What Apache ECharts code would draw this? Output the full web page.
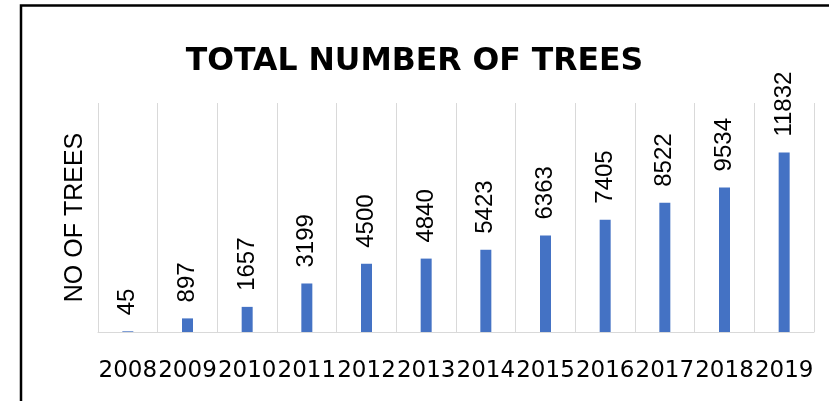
<!DOCTYPE html>
<html>
<head>
<meta charset="utf-8">
<script src="https://cdn.jsdelivr.net/npm/echarts@6/dist/echarts.min.js"></script>
<style>
  html, body { margin: 0; padding: 0; background: #fff; }
  #chart { width: 829px; height: 401px; }
</style>
</head>
<body>
<div id="chart"></div>
<script>
// Yearly tree counts
const years = ['2008', '2009', '2010', '2011', '2012', '2013', '2014', '2015', '2016', '2017', '2018', '2019'];
const treeCounts = [45, 897, 1657, 3199, 4500, 4840, 5423, 6363, 7405, 8522, 9534, 11832];

const chart = echarts.init(document.getElementById('chart'), null, { renderer: 'canvas' });

chart.setOption({
  animation: false,
  backgroundColor: '#ffffff',
  title: {
    text: 'TOTAL NUMBER OF TREES',
    left: 'center',
    top: 41,
    textStyle: {
      fontFamily: 'DejaVu Sans',
      fontWeight: 'bold',
      fontSize: 31.5,
      color: '#000000'
    }
  },
  graphic: [{
    type: 'rect',
    shape: { x: 21, y: 5.5, width: 830, height: 420 },
    style: { fill: 'none', stroke: '#000000', lineWidth: 2.5 },
    silent: true
  }],
  grid: { left: 98, right: 15, top: 103, bottom: 69, containLabel: false },
  xAxis: {
    type: 'category',
    data: years,
    boundaryGap: true,
    axisLine: { show: true, lineStyle: { color: '#d9d9d9', width: 1 } },
    axisTick: { show: false },
    splitLine: { show: true, lineStyle: { color: '#d9d9d9', width: 1 } },
    axisLabel: {
      interval: 0,
      margin: 28,
      fontFamily: 'DejaVu Sans',
      fontSize: 23,
      color: '#000000'
    }
  },
  yAxis: {
    type: 'value',
    min: 0,
    max: 15100,
    name: 'NO OF TREES',
    nameLocation: 'middle',
    nameRotate: 90,
    nameGap: 10,
    nameTextStyle: {
      fontFamily: 'Liberation Sans',
      fontSize: 25,
      color: '#000000'
    },
    axisLine: { show: false },
    axisTick: { show: false },
    axisLabel: { show: false },
    splitLine: { show: false }
  },
  series: [{
    type: 'bar',
    data: treeCounts,
    barWidth: 11,
    itemStyle: { color: '#4472c4' },
    label: {
      show: true,
      position: 'top',
      rotate: 90,
      align: 'left',
      verticalAlign: 'middle',
      distance: 16,
      fontFamily: 'Liberation Sans',
      fontSize: 24,
      color: '#000000'
    }
  }]
});
</script>
</body>
</html>
